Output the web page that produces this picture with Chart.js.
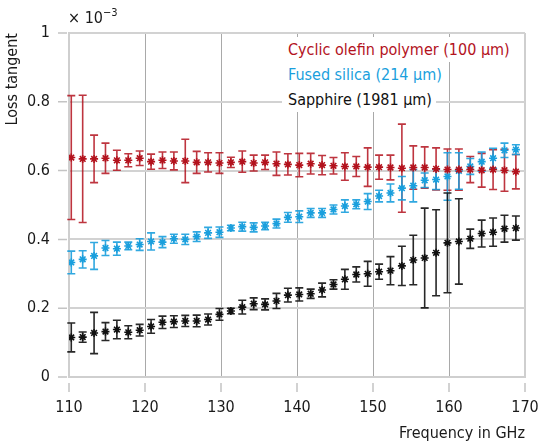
<!DOCTYPE html>
<html>
<head>
<meta charset="utf-8">
<script src="https://cdn.jsdelivr.net/npm/chart.js@4/dist/chart.umd.min.js"></script>
<style>
  html, body { margin: 0; padding: 0; background: #fff; }
  #wrap { position: relative; width: 539px; height: 444px; overflow: hidden; }
  #wrap canvas { position: absolute; left: 0; top: 0; }
  .ff { font-family: 'Liberation Sans Narrow', 'DejaVu Sans Condensed', 'Roboto', sans-serif; }
  #mult { position: absolute; left: 68px; top: 7px; font-size: 16px; color: #1a1a1a; }
  #mult sup { font-size: 11px; position: relative; top: -1px; }
  #legend { position: absolute; left: 282px; top: 37px; text-align: left; font-size: 16px; line-height: 25px; }
  #legend span { background: #fff; padding: 0 4px 0 6px; display: inline-block; }
</style>
</head>
<body>
<div id="wrap">
  <canvas id="c" width="539" height="444"></canvas>
  <div id="mult" class="ff">× 10<sup>−3</sup></div>
  <div id="legend" class="ff"></div>
</div>
<script>
// ---- data (loss tangent in units of 1e-3) ----
const freq = [110.3, 111.8, 113.3, 114.8, 116.3, 117.8, 119.3, 120.8, 122.3, 123.8,
              125.3, 126.8, 128.3, 129.8, 131.3, 132.8, 134.3, 135.8, 137.3, 138.8,
              140.3, 141.8, 143.3, 144.8, 146.3, 147.8, 149.3, 150.8, 152.3, 153.8,
              155.3, 156.8, 158.3, 159.8, 161.3, 162.8, 164.3, 165.8, 167.3, 168.8];

const copValues = [0.638, 0.634, 0.634, 0.636, 0.630, 0.630, 0.636, 0.626, 0.630, 0.628,
                   0.628, 0.624, 0.624, 0.622, 0.624, 0.626, 0.622, 0.624, 0.620, 0.618,
                   0.616, 0.620, 0.616, 0.614, 0.612, 0.612, 0.610, 0.610, 0.609, 0.607,
                   0.609, 0.609, 0.605, 0.603, 0.603, 0.603, 0.601, 0.603, 0.601, 0.597];
const copErr = [0.180, 0.185, 0.069, 0.044, 0.029, 0.019, 0.021, 0.022, 0.024, 0.026,
                0.063, 0.032, 0.028, 0.030, 0.015, 0.031, 0.023, 0.021, 0.034, 0.031,
                0.034, 0.030, 0.028, 0.024, 0.040, 0.029, 0.056, 0.035, 0.036, 0.128,
                0.063, 0.060, 0.061, 0.060, 0.060, 0.038, 0.049, 0.058, 0.061, 0.050];

const fsValues = [0.333, 0.342, 0.352, 0.375, 0.373, 0.381, 0.385, 0.394, 0.392, 0.402,
                  0.400, 0.408, 0.419, 0.421, 0.433, 0.437, 0.435, 0.439, 0.446, 0.464,
                  0.466, 0.477, 0.477, 0.487, 0.497, 0.502, 0.510, 0.526, 0.535, 0.549,
                  0.556, 0.572, 0.574, 0.583, 0.599, 0.612, 0.626, 0.636, 0.659, 0.661];
const fsErr = [0.033, 0.025, 0.039, 0.022, 0.019, 0.011, 0.017, 0.025, 0.016, 0.013,
               0.015, 0.014, 0.016, 0.015, 0.008, 0.013, 0.013, 0.011, 0.013, 0.014,
               0.017, 0.013, 0.013, 0.013, 0.018, 0.013, 0.023, 0.017, 0.026, 0.034,
               0.047, 0.021, 0.029, 0.069, 0.053, 0.023, 0.028, 0.029, 0.021, 0.014];

const sapValues = [0.115, 0.116, 0.128, 0.132, 0.138, 0.130, 0.136, 0.147, 0.159, 0.161,
                   0.163, 0.163, 0.167, 0.182, 0.192, 0.203, 0.213, 0.211, 0.221, 0.238,
                   0.240, 0.242, 0.253, 0.269, 0.284, 0.298, 0.300, 0.306, 0.309, 0.323,
                   0.340, 0.346, 0.361, 0.390, 0.394, 0.402, 0.417, 0.421, 0.431, 0.433];
const sapErr = [0.042, 0.015, 0.060, 0.026, 0.027, 0.019, 0.017, 0.020, 0.018, 0.017,
                0.016, 0.017, 0.016, 0.017, 0.008, 0.020, 0.017, 0.016, 0.022, 0.020,
                0.019, 0.0135, 0.020, 0.0135, 0.029, 0.022, 0.036, 0.022, 0.041, 0.057,
                0.072, 0.145, 0.125, 0.145, 0.124, 0.028, 0.039, 0.041, 0.039, 0.035];

const seriesNames = ['Cyclic olefin polymer (100 µm)', 'Fused silica (214 µm)', 'Sapphire (1981 µm)'];
const xTitle = 'Frequency in GHz';
const yTitle = 'Loss tangent';

// ---- styling ----
const FONT = "'Liberation Sans Narrow', 'DejaVu Sans Condensed', 'Roboto', sans-serif";
const colors = ['#b3121d', '#1a9fdd', '#111111'];
const barColors = ['rgba(179,18,29,0.85)', 'rgba(26,159,221,0.9)', 'rgba(17,17,17,0.9)'];

const legendEl = document.getElementById('legend');
seriesNames.forEach((n, i) => {
  const s = document.createElement('span');
  s.textContent = n; s.style.color = colors[i];
  legendEl.appendChild(s); legendEl.appendChild(document.createElement('br'));
});

function pts(vals, errs) {
  return freq.map((f, i) => ({ x: f, y: vals[i], err: errs[i] }));
}

const errorBars = {
  id: 'errorBars',
  beforeDatasetsDraw(chart) {
    const { ctx, scales: { x, y } } = chart;
    ctx.save();
    ctx.lineWidth = 1.6;
    chart.data.datasets.forEach((ds, di) => {
      ctx.strokeStyle = barColors[di];
      ds.data.forEach(p => {
        const px = x.getPixelForValue(p.x);
        const top = y.getPixelForValue(p.y + p.err);
        const bot = y.getPixelForValue(p.y - p.err);
        ctx.beginPath();
        ctx.moveTo(px, top); ctx.lineTo(px, bot);
        ctx.moveTo(px - 4, top); ctx.lineTo(px + 4, top);
        ctx.moveTo(px - 4, bot); ctx.lineTo(px + 4, bot);
        ctx.stroke();
      });
    });
    ctx.restore();
  }
};

const tickMarks = {
  id: 'tickMarks',
  afterDraw(chart) {
    const { ctx, chartArea, scales: { x, y } } = chart;
    ctx.save();
    ctx.strokeStyle = '#c4c4c4';
    ctx.lineWidth = 1.5;
    ctx.beginPath();
    y.ticks.forEach(t => {
      const py = y.getPixelForValue(t.value);
      ctx.moveTo(chartArea.left - 11, py); ctx.lineTo(chartArea.left - 2, py);
    });
    x.ticks.forEach(t => {
      const px = x.getPixelForValue(t.value);
      ctx.moveTo(px, chartArea.bottom + 6); ctx.lineTo(px, chartArea.bottom + 15);
    });
    ctx.stroke();
    ctx.restore();
  }
};

const mk = (i, vals, errs) => ({
  label: seriesNames[i],
  data: pts(vals, errs),
  showLine: false,
  pointStyle: 'star',
  pointRadius: 4,
  pointHoverRadius: 4,
  borderWidth: 1.6,
  borderColor: colors[i],
  backgroundColor: colors[i]
});

new Chart(document.getElementById('c'), {
  type: 'scatter',
  data: {
    datasets: [
      mk(0, copValues, copErr),
      mk(1, fsValues, fsErr),
      mk(2, sapValues, sapErr)
    ]
  },
  options: {
    responsive: false,
    animation: false,
    layout: { padding: { top: 33, right: 14, left: 0, bottom: 0 } },
    plugins: { legend: { display: false }, tooltip: { enabled: false } },
    scales: {
      x: {
        type: 'linear', min: 110, max: 170,
        afterFit: s => { s.height = 67; s.paddingLeft = 0; s.paddingRight = 0; },
        ticks: { stepSize: 10, padding: 21, color: '#1a1a1a', font: { family: FONT, size: 16 } },
        grid: {
          drawTicks: false,
          color: c => (c.index === 0 || c.index === 6) ? '#cfcfcf' : '#a9a9a9',
          lineWidth: c => (c.index === 0 || c.index === 6) ? 2 : 1
        },
        border: { color: '#cfcfcf', width: 2 },
        title: { display: true, text: xTitle, align: 'end', color: '#1a1a1a',
                 font: { family: FONT, size: 16 }, padding: { top: 0, bottom: 1 } }
      },
      y: {
        type: 'linear', min: 0, max: 1,
        afterFit: s => { s.width = 69; s.paddingTop = 0; s.paddingBottom = 0; },
        ticks: { stepSize: 0.2, padding: 19, color: '#1a1a1a', font: { family: FONT, size: 16 },
                 callback: v => (v === 0 || v === 1) ? String(v) : v.toFixed(1) },
        grid: { drawTicks: false, color: '#d2d2d2', lineWidth: 2 },
        border: { color: '#cfcfcf', width: 2 },
        title: { display: true, text: yTitle, align: 'end', color: '#1a1a1a',
                 font: { family: FONT, size: 16 }, padding: { top: 3, bottom: 0 } }
      }
    }
  },
  plugins: [errorBars, tickMarks]
});
</script>
</body>
</html>
